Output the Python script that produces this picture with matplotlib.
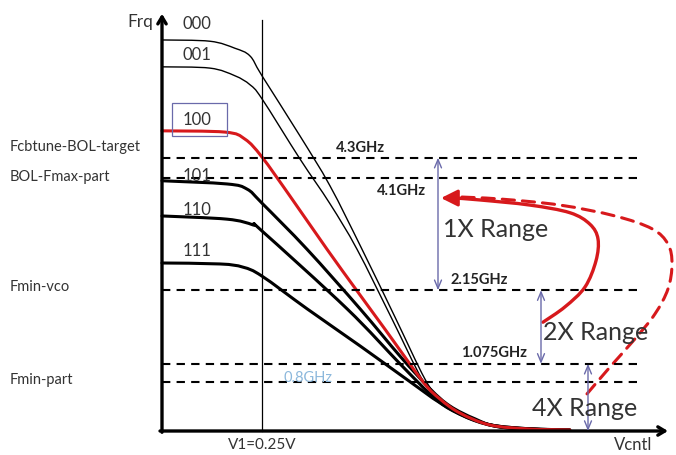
#!/usr/bin/env python3
"""VCO tuning curves per band code, with the 1X/2X/4X range annotations."""

import matplotlib

matplotlib.use("Agg")
import matplotlib.pyplot as plt
import numpy as np
from matplotlib.patches import PathPatch
from matplotlib.path import Path

plt.rcParams["font.family"] = ["Lato", "DejaVu Sans"]

# tuning curves: Vcntl (V) -> frequency (GHz)
V_000 = [0, .12, .1825, .22, .25, .345, .42, .5, .5825, .6575, .695, .745, .82, .92, 1.02]
F_000 = [6.11, 6.09, 5.98, 5.86, 5.55, 4.61, 3.83, 2.84, 1.78, 0.81, 0.5, 0.28, 0.11, 0.047, 0.031]
V_001 = [0, .12, .1825, .22, .25, .345, .42, .4875, .575, .65, .695, .745, .82, .92, 1.02]
F_001 = [5.69, 5.67, 5.55, 5.41, 5.19, 4.25, 3.55, 2.84, 1.75, 0.81, 0.47, 0.27, 0.11, 0.047, 0.031]
V_100 = [0, .158, .2075, .25, .32, .4125, .4875, .5575, .6525, .695, .745, .82, .92, 1.02]
F_100 = [4.69, 4.67, 4.56, 4.28, 3.67, 2.84, 2.19, 1.59, 0.77, 0.5, 0.28, 0.094, 0.031, 0.016]
V_101 = [0, .1625, .2125, .25, .3625, .495, .595, .67, .72, .7825, .845, .995]
F_101 = [3.91, 3.86, 3.78, 3.56, 2.84, 1.91, 1.17, 0.66, 0.39, 0.19, 0.0625, 0.016]
V_110 = [0, .1625, .2275, .25, .4625, .595, .67, .72, .795, .87, .97]
F_110 = [3.36, 3.31, 3.22, 3.125, 1.91, 1.05, 0.58, 0.34, 0.14, 0.047, 0.016]
V_111 = [0, .145, .2025, .25, .3625, .495, .62, .695, .77, .845, .945]
F_111 = [2.625, 2.61, 2.56, 2.42, 1.91, 1.33, 0.77, 0.44, 0.19, 0.0625, 0.016]

CODES = ["000", "001", "100", "101", "110", "111"]
CODE_LABEL_F = [6.38, 5.89, 4.875, 4.0, 3.47, 2.83]

# horizontal reference levels (drawn height in GHz) and their names
LEVEL_F = [4.27, 3.95, 2.2, 1.05, 0.77]
LEVEL_TEXT = ["4.3GHz", "4.1GHz", "2.15GHz", "1.075GHz", "0.8GHz"]
LEVEL_TEXT_POS = [(0.495, 4.44), (0.5975, 3.77), (0.7925, 2.375), (0.83, 1.23), (0.365, 0.84)]
SIDE_NAMES = ["Fcbtune-BOL-target", "BOL-Fmax-part", "Fmin-vco", "Fmin-part"]
SIDE_NAME_F = [4.45, 3.98, 2.27, 0.81]

V1 = 0.25

# range arrows: x position, top, bottom
RANGE_NAMES = ["1X Range", "2X Range", "4X Range"]
RANGE_X = [0.69, 0.9475, 1.065]
RANGE_TOP = [4.27, 2.2, 1.05]
RANGE_BOTTOM = [2.2, 1.05, 0.0]
RANGE_TEXT_POS = [(0.7025, 3.16), (0.9525, 1.55), (0.925, 0.36)]

# red loop-back arrows
LOOP_V = [0.9525, 1.0075, 1.0575, 1.085, 1.09, 1.07, 1.02, 0.92, 0.795, 0.7325]
LOOP_F = [1.70, 1.94, 2.25, 2.66, 3.0, 3.23, 3.41, 3.53, 3.61, 3.64]
LOOP2_V = [1.0625, 1.12, 1.1825, 1.2325, 1.265, 1.275, 1.265, 1.225, 1.1325, 0.995, 0.845, 0.7325]
LOOP2_F = [0.58, 1.0, 1.44, 1.83, 2.22, 2.61, 2.92, 3.16, 3.36, 3.53, 3.625, 3.66]
ARROW_TIP = (0.6975, 3.64)

RED = "#d7191c"
BLUE = "#6a6aaa"
TEXT = "#333333"


def smooth_path(xs, ys) -> Path:
    """Catmull-Rom curve through the read points, as cubic Bezier segments."""
    pts = np.column_stack([xs, ys]).astype(float)
    n = len(pts)
    verts = [pts[0]]
    codes = [Path.MOVETO]
    for i in range(n - 1):
        p0 = pts[i - 1] if i > 0 else pts[i]
        p1, p2 = pts[i], pts[i + 1]
        p3 = pts[i + 2] if i + 2 < n else pts[i + 1]
        verts += [p1 + (p2 - p0) / 6, p2 - (p3 - p1) / 6, p2]
        codes += [Path.CURVE4] * 3
    return Path(verts, codes)


def curve(ax, xs, ys, **kw) -> None:
    ax.add_patch(PathPatch(smooth_path(xs, ys), fill=False, capstyle="round",
                           joinstyle="round", **kw))


def main() -> None:
    fig = plt.figure(figsize=(6.76, 4.56), dpi=100)
    ax = fig.add_axes([0, 0, 1, 1])
    ax.set_xlim(-0.405, 1.285)
    ax.set_ylim(-0.375, 6.75)
    ax.axis("off")

    # reference levels
    for f in LEVEL_F:
        ax.plot([0, 1.2], [f, f], color="black", lw=1.5, dashes=(4, 3))
    for text, (x, y) in zip(LEVEL_TEXT, LEVEL_TEXT_POS):
        light = text == "0.8GHz"
        ax.text(x, y, text, ha="center", va="center", fontsize=10.5,
                fontweight="normal" if light else "bold",
                color="#8cb8dc" if light else "#222222")
    for name, f in zip(SIDE_NAMES, SIDE_NAME_F):
        ax.text(-0.38, f, name, ha="left", va="center", fontsize=10.5, color=TEXT)

    # V1 marker
    ax.plot([V1, V1], [0, 6.42], color="black", lw=0.9)

    # tuning curves
    curve(ax, V_000, F_000, edgecolor="black", lw=1.0)
    curve(ax, V_001, F_001, edgecolor="black", lw=1.0)
    curve(ax, V_101, F_101, edgecolor="black", lw=2.2)
    curve(ax, V_110, F_110, edgecolor="black", lw=2.2)
    curve(ax, V_111, F_111, edgecolor="black", lw=2.2)
    curve(ax, V_100, F_100, edgecolor=RED, lw=2.2)
    for code, f in zip(CODES, CODE_LABEL_F):
        ax.text(0.0875, f, code, ha="center", va="center", fontsize=12, color=TEXT)
    ax.add_patch(plt.Rectangle((0.025, 4.61), 0.1375, 0.515, fill=False,
                               edgecolor=BLUE, lw=0.9))

    # axes with arrows
    ax.annotate("", xy=(0, 6.52), xytext=(0, -0.02),
                arrowprops=dict(arrowstyle="->,head_length=0.5,head_width=0.3",
                                color="black", lw=2.4, shrinkA=0, shrinkB=0))
    ax.annotate("", xy=(1.265, 0), xytext=(-0.005, 0),
                arrowprops=dict(arrowstyle="->,head_length=0.5,head_width=0.3",
                                color="black", lw=2.4, shrinkA=0, shrinkB=0))
    ax.text(-0.055, 6.41, "Frq", ha="center", va="center", fontsize=12.5, color=TEXT)
    ax.text(1.1775, -0.2, "Vcntl", ha="center", va="center", fontsize=12, color=TEXT)
    ax.text(V1, -0.2, "V1=0.25V", ha="center", va="center", fontsize=11, color=TEXT)

    # range arrows
    for name, x, top, bot, (tx, ty) in zip(RANGE_NAMES, RANGE_X, RANGE_TOP,
                                           RANGE_BOTTOM, RANGE_TEXT_POS):
        ax.annotate("", xy=(x, top), xytext=(x, bot),
                    arrowprops=dict(arrowstyle="<->,head_length=0.6,head_width=0.25",
                                    color=BLUE, lw=1.0, shrinkA=0, shrinkB=0))
        ax.text(tx, ty, name, ha="left", va="center", fontsize=18, color=TEXT)

    # red loop-back arrows
    curve(ax, LOOP2_V, LOOP2_F, edgecolor=RED, lw=2.2, linestyle=(0, (4, 2.6)))
    curve(ax, LOOP_V, LOOP_F, edgecolor=RED, lw=2.4)
    ax.annotate("", xy=ARROW_TIP, xytext=(LOOP_V[-1], LOOP_F[-1]),
                arrowprops=dict(arrowstyle="-|>,head_length=1.0,head_width=0.5",
                                color=RED, lw=2.2, shrinkA=0, shrinkB=0))

    fig.savefig("out.png", dpi=100)
    plt.close(fig)


if __name__ == "__main__":
    main()
